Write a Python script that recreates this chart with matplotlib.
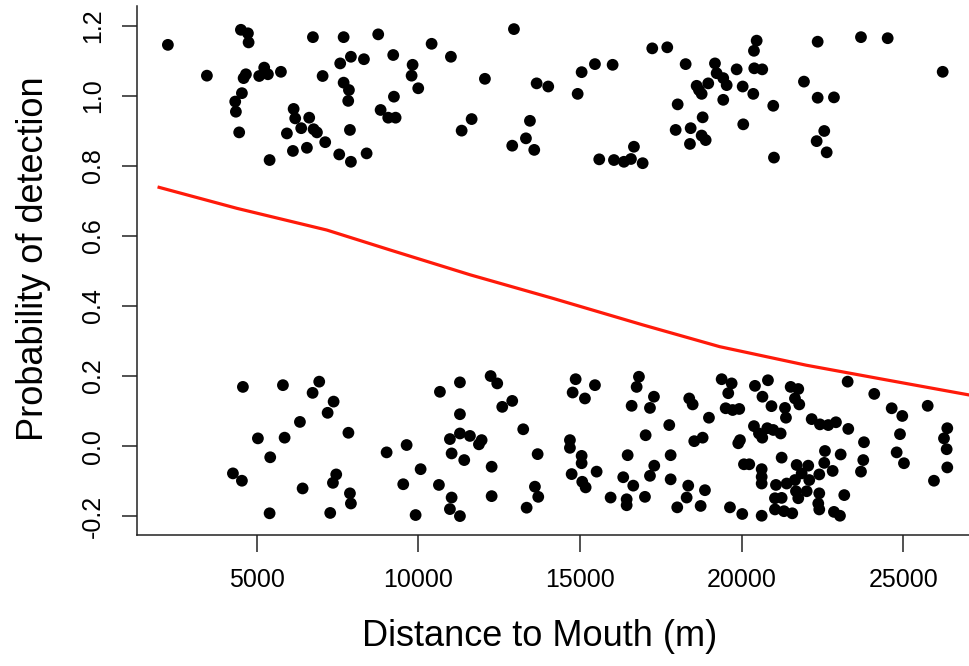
import numpy as np
import matplotlib
matplotlib.use("Agg")
import matplotlib.pyplot as plt

plt.rcParams['font.family'] = ['Liberation Sans', 'DejaVu Sans']

# detections (jittered around 1)
dist_hit = [2252, 4511, 4728, 4749, 6739, 7689, 7914, 7583, 3459, 4666,
            4595, 5232, 5077, 5346, 5749, 7039, 7689, 7853, 7831, 4542,
            4335, 4356, 6142, 6191, 6624, 6377, 6760, 6863, 4458, 5934,
            7119, 7884, 6120, 6553, 5399, 7553, 7914, 8759, 8317, 9223,
            9823, 9792, 9997, 10411, 11008, 12958, 12060, 13660, 14019, 9245,
            8833, 9069, 9297, 11649, 11340, 13453, 13329, 12905, 13586, 8400,
            20467, 20383, 17237, 17701, 15052, 15464, 16011, 14929, 18270, 19177,
            19229, 19433, 19539, 19848, 20393, 20640, 18610, 18765, 18969, 18682,
            20034, 20362, 19433, 18023, 20980, 18796, 20052, 17961, 18425, 18765,
            18889, 18403, 16670, 15597, 16052, 16361, 16578, 16940, 21002, 22354,
            23694, 24520, 21930, 26222, 22354, 22858, 22558, 22323, 22633]
det_hit = [1.146, 1.189, 1.179, 1.153, 1.168, 1.168, 1.112, 1.093, 1.058, 1.062,
           1.051, 1.081, 1.057, 1.062, 1.069, 1.057, 1.038, 1.017, 0.986, 1.008,
           0.984, 0.955, 0.963, 0.936, 0.938, 0.908, 0.905, 0.896, 0.896, 0.893,
           0.868, 0.903, 0.843, 0.852, 0.817, 0.833, 0.812, 1.176, 1.105, 1.117,
           1.089, 1.058, 1.022, 1.149, 1.112, 1.191, 1.049, 1.036, 1.027, 0.998,
           0.960, 0.938, 0.938, 0.934, 0.901, 0.929, 0.879, 0.858, 0.846, 0.836,
           1.158, 1.129, 1.136, 1.139, 1.068, 1.091, 1.089, 1.006, 1.091, 1.093,
           1.065, 1.051, 1.031, 1.076, 1.079, 1.076, 1.029, 1.006, 1.036, 1.017,
           1.027, 1.006, 0.989, 0.976, 0.972, 0.939, 0.919, 0.903, 0.908, 0.887,
           0.874, 0.863, 0.855, 0.819, 0.817, 0.812, 0.820, 0.808, 0.824, 1.155,
           1.168, 1.165, 1.041, 1.069, 0.995, 0.996, 0.900, 0.871, 0.839]

# non-detections (jittered around 0)
dist_miss = [4573, 5811, 6934, 6729, 7379, 7194, 6337, 5037, 5863, 7837,
             5418, 4264, 4542, 7460, 7358, 6420, 7884, 7914, 5399, 7274,
             10668, 11287, 12237, 12441, 12905, 12596, 11287, 13245, 11287, 11596,
             10977, 11958, 11875, 9638, 9019, 11030, 11420, 13691, 10071, 12268,
             9533, 10637, 13607, 13710, 11030, 12268, 10977, 11287, 9916, 13351,
             14867, 14774, 15154, 15464, 16825, 16754, 16599, 17289, 17166, 18381,
             18487, 19384, 19693, 19588, 20414, 20816, 20646, 20925, 19508, 19724,
             19928, 18991, 17763, 17032, 18536, 18796, 19950, 19898, 20383, 20538,
             20640, 20795, 14690, 14690, 15052, 15052, 15516, 14743, 15071, 15176,
             16476, 17806, 17299, 17166, 16339, 16649, 17806, 18350, 18867, 18301,
             15949, 16445, 16445, 17011, 18010, 18734, 20074, 20238, 20622, 20622,
             20622, 21033, 19641, 20021, 20622, 21519, 21754, 23282, 24105, 25758,
             21343, 21373, 21652, 21785, 22169, 22425, 22682, 22920, 23301, 24644,
             24972, 20980, 21209, 23787, 24901, 26364, 26262, 26345, 24798, 25024,
             22580, 23066, 22558, 21240, 23765, 23694, 26364, 25952, 21704, 22063,
             21859, 21652, 22094, 22404, 22818, 21064, 21395, 21683, 22014, 22404,
             23177, 21240, 21754, 21033, 21312, 21568, 22373, 22404, 22858, 23044]
det_miss = [0.169, 0.174, 0.184, 0.152, 0.127, 0.095, 0.069, 0.022, 0.024, 0.038,
            -0.032, -0.078, -0.099, -0.081, -0.105, -0.121, -0.135, -0.164, -0.192, -0.191,
            0.155, 0.182, 0.200, 0.179, 0.129, 0.112, 0.091, 0.048, 0.036, 0.029,
            0.020, 0.017, 0.005, 0.003, -0.018, -0.021, -0.040, -0.023, -0.066, -0.059,
            -0.109, -0.111, -0.116, -0.145, -0.147, -0.143, -0.180, -0.200, -0.197, -0.176,
            0.191, 0.153, 0.136, 0.174, 0.198, 0.169, 0.115, 0.141, 0.109, 0.136,
            0.119, 0.191, 0.179, 0.151, 0.172, 0.188, 0.141, 0.114, 0.108, 0.103,
            0.106, 0.081, 0.060, 0.031, 0.014, 0.024, 0.017, 0.008, 0.057, 0.036,
            0.024, 0.051, 0.017, -0.005, -0.028, -0.049, -0.073, -0.080, -0.102, -0.118,
            -0.026, -0.026, -0.056, -0.085, -0.089, -0.113, -0.095, -0.113, -0.126, -0.147,
            -0.147, -0.152, -0.169, -0.145, -0.175, -0.171, -0.052, -0.052, -0.066, -0.088,
            -0.107, -0.149, -0.175, -0.194, -0.199, 0.169, 0.163, 0.184, 0.149, 0.115,
            0.109, 0.081, 0.136, 0.119, 0.077, 0.062, 0.060, 0.068, 0.049, 0.108,
            0.086, 0.046, 0.036, 0.011, 0.034, 0.051, 0.022, -0.009, -0.018, -0.049,
            -0.014, -0.024, -0.048, -0.033, -0.040, -0.073, -0.061, -0.099, -0.054, -0.056,
            -0.078, -0.097, -0.097, -0.081, -0.071, -0.111, -0.107, -0.129, -0.129, -0.135,
            -0.140, -0.148, -0.149, -0.181, -0.186, -0.192, -0.164, -0.181, -0.188, -0.199]

# fitted probability curve
fit_dist = [1980, 4390, 7170, 9130, 11610, 14160, 16950, 19320, 22000, 24480, 27040]
fit_prob = [0.739, 0.679, 0.617, 0.560, 0.489, 0.422, 0.346, 0.284, 0.231, 0.189, 0.146]

xticks = [5000, 10000, 15000, 20000, 25000]
yticks = [-0.2, 0.0, 0.2, 0.4, 0.6, 0.8, 1.0, 1.2]

fig = plt.figure(figsize=(9.69, 6.66), dpi=100)
ax = fig.add_axes([0.1414, 0.1967, 0.8586, 0.7943])

ax.scatter(dist_hit + dist_miss, det_hit + det_miss, s=72, color='black',
           edgecolors='none', zorder=2)
ax.plot(fit_dist, fit_prob, color='#ff1a0a', linewidth=2.3, zorder=3)

ax.set_xlim(1297, 27036)
ax.set_ylim(-0.254, 1.257)

ax.set_xticks(xticks)
ax.set_xticklabels([str(t) for t in xticks])
ax.set_yticks(yticks)
ax.set_yticklabels(['%.1f' % t for t in yticks], rotation=90, va='center')

for side in ['top', 'right']:
    ax.spines[side].set_visible(False)
for side in ['left', 'bottom']:
    ax.spines[side].set_linewidth(1.1)
    ax.spines[side].set_color('#222222')

ax.tick_params(axis='x', direction='out', length=12, width=1.1, pad=12,
               labelsize=18, color='#222222')
ax.tick_params(axis='y', direction='out', length=11, width=1.1, pad=12,
               labelsize=18, color='#222222')

ax.set_xlabel("Distance to Mouth (m)", fontsize=26)
ax.xaxis.set_label_coords(0.484, -0.158)
ax.set_ylabel("Probability of detection", fontsize=26)
ax.yaxis.set_label_coords(-0.103, 0.522)

fig.savefig("out.png", dpi=100)
